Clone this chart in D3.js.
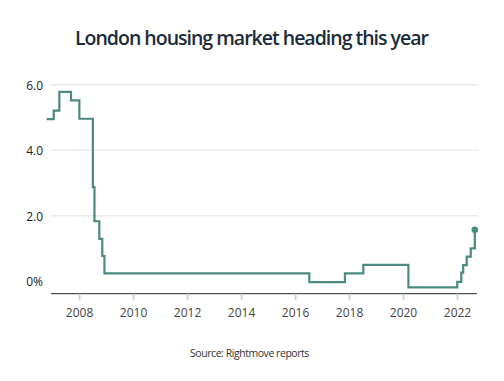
<!DOCTYPE html>
<html><head><meta charset="utf-8">
<script src="https://cdn.jsdelivr.net/npm/d3@7"></script>
<style>
html,body{margin:0;padding:0;background:#fff;}
svg{display:block;font-family:"Open Sans",sans-serif;}
</style></head>
<body>
<svg id="chart" width="504" height="381"></svg>
<script>
// decimal years at which each step begins
const stepYears = [2006.80, 2007.06, 2007.27, 2007.70, 2008.01, 2008.51, 2008.57, 2008.75, 2008.86, 2008.94,
  2016.53, 2017.85, 2018.53, 2020.20, 2022.01, 2022.16, 2022.23, 2022.36, 2022.51, 2022.66];
const stepValues = [4.95, 5.21, 5.78, 5.52, 4.96, 2.87, 1.83, 1.29, 0.77, 0.24,
  -0.03, 0.24, 0.50, -0.19, -0.02, 0.26, 0.49, 0.75, 1.00, 1.57];
const xTicks = [2008, 2010, 2012, 2014, 2016, 2018, 2020, 2022];
const yTicks = [0, 2, 4, 6];
const yTickLabels = ["0%", "2.0", "4.0", "6.0"];
const title = "London housing market heading this year";
const source = "Source: Rightmove reports";

const svg = d3.select("#chart");
const x = d3.scaleLinear().domain([2006.96, 2022.73]).range([51, 476.7]);
const y = d3.scaleLinear().domain([0, 6]).range([281.2, 84.7]);

svg.append("text").attr("x", 251.5).attr("y", 45).attr("text-anchor", "middle")
  .attr("font-size", 19.5).attr("font-weight", 600).attr("fill", "#1c2b39")
  .attr("letter-spacing", -1.0).text(title);

// gridlines (non-zero)
svg.append("g").selectAll("line").data(yTicks.filter(d => d !== 0)).join("line")
  .attr("x1", 51).attr("x2", 478).attr("y1", d => y(d)).attr("y2", d => y(d))
  .attr("stroke", "#ececec").attr("stroke-width", 1.5);

// y labels
svg.append("g").selectAll("text").data(yTicks).join("text")
  .attr("x", 43).attr("y", d => y(d) + 5).attr("text-anchor", "end")
  .attr("font-size", 12).attr("fill", "#222").text((d, i) => yTickLabels[i]);

// x axis
const xAxis = svg.append("g").attr("transform", "translate(0,293.7)")
  .call(d3.axisBottom(x).tickValues(xTicks).tickFormat(d3.format("d")).tickSize(6).tickPadding(9));
xAxis.select(".domain").attr("stroke", "#222").attr("stroke-width", 1).attr("d", `M${x.range()[0]},0H${x.range()[1]}`);
xAxis.selectAll(".tick line").attr("stroke", "#d0d0d0").attr("stroke-width", 2);
xAxis.selectAll(".tick text").attr("font-size", 12).attr("fill", "#444").attr("font-family", "Open Sans, sans-serif");

const data = stepYears.map((d, i) => ({year: d, value: stepValues[i]}));
const line = d3.line().x(d => x(d.year)).y(d => y(d.value)).curve(d3.curveStepAfter);
svg.append("path").datum(data).attr("d", line).attr("fill", "none")
  .attr("stroke", "#4b8a80").attr("stroke-width", 2.2);

const last = data[data.length - 1];
svg.append("circle").attr("cx", x(last.year)).attr("cy", y(last.value)).attr("r", 3.3).attr("fill", "#4b8a80");

svg.append("text").attr("x", 249.5).attr("y", 356.5).attr("text-anchor", "middle")
  .attr("font-size", 10.5).attr("fill", "#333").attr("letter-spacing", -0.45).text(source);
</script>
</body></html>
